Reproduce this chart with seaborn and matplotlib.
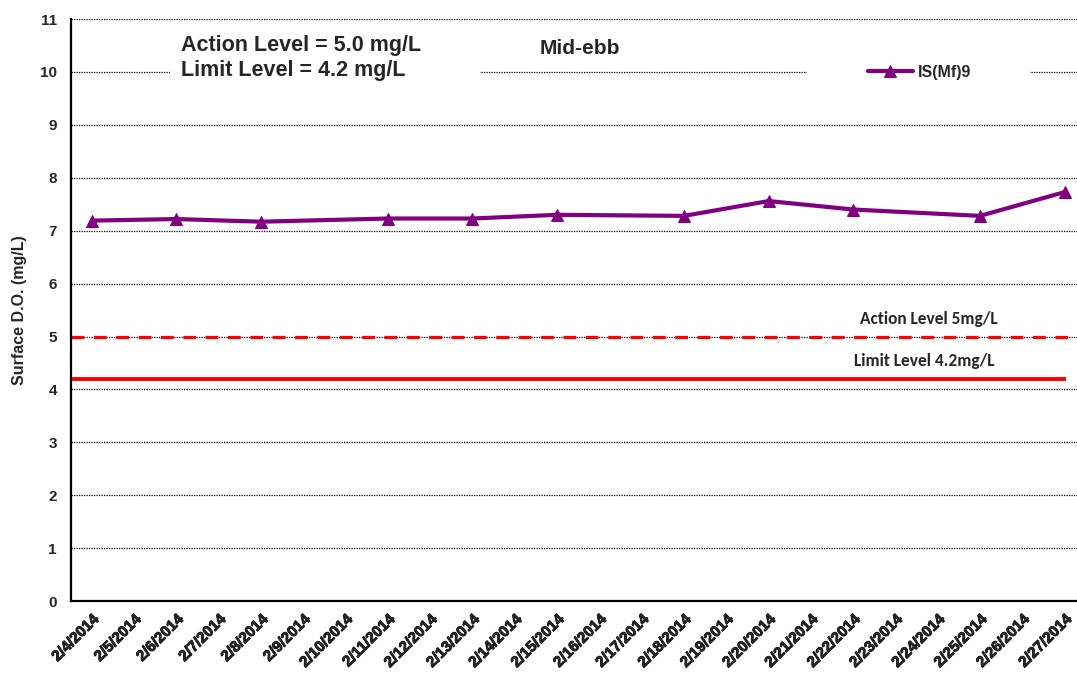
import matplotlib
matplotlib.use("Agg")
import matplotlib.pyplot as plt
import matplotlib.transforms as mtransforms
import matplotlib.patheffects as pe
from matplotlib.patches import Rectangle
import seaborn as sns
import pandas as pd

# ---------------- data ----------------
tick_labels = ["2/4/2014", "2/5/2014", "2/6/2014", "2/7/2014", "2/8/2014", "2/9/2014",
               "2/10/2014", "2/11/2014", "2/12/2014", "2/13/2014", "2/14/2014", "2/15/2014",
               "2/16/2014", "2/17/2014", "2/18/2014", "2/19/2014", "2/20/2014", "2/21/2014",
               "2/22/2014", "2/23/2014", "2/24/2014", "2/25/2014", "2/26/2014", "2/27/2014"]
sample_dates = ["2/4/2014", "2/6/2014", "2/8/2014", "2/11/2014", "2/13/2014", "2/15/2014",
                "2/18/2014", "2/20/2014", "2/22/2014", "2/25/2014", "2/27/2014"]
do_values = [7.19, 7.22, 7.17, 7.23, 7.23, 7.30, 7.28, 7.56, 7.40, 7.28, 7.73]
series_name = "IS(Mf)9"
action_level = 5.0
limit_level = 4.2
y_ticks = list(range(0, 12))

# ---------------- style ----------------
sns.set_style("white")
plt.rcParams["font.family"] = ["Liberation Sans", "DejaVu Sans"]

fig = plt.figure(figsize=(10.77, 6.83), dpi=100)
ax = fig.add_axes([0.0656, 0.1200, 0.9426, 0.8521])

tick_dates = pd.to_datetime(tick_labels, format="%m/%d/%Y")
df = pd.DataFrame({"date": pd.to_datetime(sample_dates, format="%m/%d/%Y"),
                   "DO": do_values})

half = pd.Timedelta(hours=12)
x_left = tick_dates[0] - half
x_right = tick_dates[-1] + half

# grid
ax.set_axisbelow(True)
ax.yaxis.grid(True, linestyle=(0, (1, 1)), color="black", lw=0.9)
ax.xaxis.grid(False)

# level lines
ax.axhline(action_level, color="#ff0000", lw=2.3, dashes=(4, 3), zorder=2)
ax.hlines(limit_level, xmin=x_left, xmax=df["date"].iloc[-1] + pd.Timedelta(hours=1),
          color="#ff0000", lw=2.8, zorder=2)

# series
sns.lineplot(data=df, x="date", y="DO", ax=ax, color="#800080", lw=3.0,
             marker="^", markersize=8.5, markeredgecolor="#800080",
             label=series_name, zorder=4)

ax.set_xlim(x_left, x_right)
ax.set_ylim(0, 11)
ax.set_yticks(y_ticks)
ax.set_yticklabels([str(t) for t in y_ticks], fontsize=11, fontweight="bold")
ax.set_xticks(tick_dates)
xt = ax.set_xticklabels(tick_labels, rotation=45, ha="right", rotation_mode="anchor",
                        fontsize=11, fontweight="bold")
for t in xt:
    t.set_path_effects([pe.withStroke(linewidth=0.6, foreground="black")])
ax.set_xticks(list(tick_dates - half) + [x_right], minor=True)
ax.tick_params(axis="x", which="major", length=0, pad=8)
ax.tick_params(axis="x", which="minor", length=5, width=1.5, direction="out", color="black")
ax.tick_params(axis="y", which="major", length=5, width=1.5, direction="out", color="black", pad=5)

ax.set_xlabel("")
ax.set_ylabel("Surface D.O. (mg/L)", fontsize=11.5, fontweight="bold", labelpad=9)

for s in ["top", "right"]:
    ax.spines[s].set_visible(False)
for s in ["left", "bottom"]:
    ax.spines[s].set_color("black")
    ax.spines[s].set_linewidth(1.6)

# annotation boxes
bt = mtransforms.blended_transform_factory(ax.transAxes, ax.transData)
ax.add_patch(Rectangle((0.098, 9.75), 0.305, 0.5, transform=bt, facecolor="white",
                       edgecolor="none", zorder=1))
ax.add_patch(Rectangle((0.725, 9.8), 0.22, 0.4, transform=bt, facecolor="white",
                       edgecolor="none", zorder=1))

ax.text(0.1088, 10.50, "Action Level = 5.0 mg/L", transform=bt, fontsize=15.5,
        fontweight="bold", va="center", ha="left", zorder=3)
ax.text(0.1088, 10.02, "Limit Level = 4.2 mg/L", transform=bt, fontsize=15.5,
        fontweight="bold", va="center", ha="left", zorder=3)
ax.text(0.4624, 10.45, "Mid-ebb", transform=bt, fontsize=15,
        fontweight="bold", va="center", ha="left", zorder=3)

small_font = ["Carlito", "Lato", "DejaVu Sans"]
ax.text(0.8455, 5.33, "Action Level 5mg/L", transform=bt, fontsize=12.5,
        fontweight="black", va="center", ha="center", family=small_font, zorder=3)
ax.text(0.8406, 4.54, "Limit Level 4.2mg/L", transform=bt, fontsize=12.5,
        fontweight="black", va="center", ha="center", family=small_font, zorder=3)

leg = ax.legend(loc="center left", bbox_to_anchor=(0.7855, 0.9089), frameon=False,
                borderpad=0, borderaxespad=0, handlelength=2.8, handletextpad=0.3,
                prop={"size": 11.5, "weight": "bold"})

fig.savefig("out.png", dpi=100)
